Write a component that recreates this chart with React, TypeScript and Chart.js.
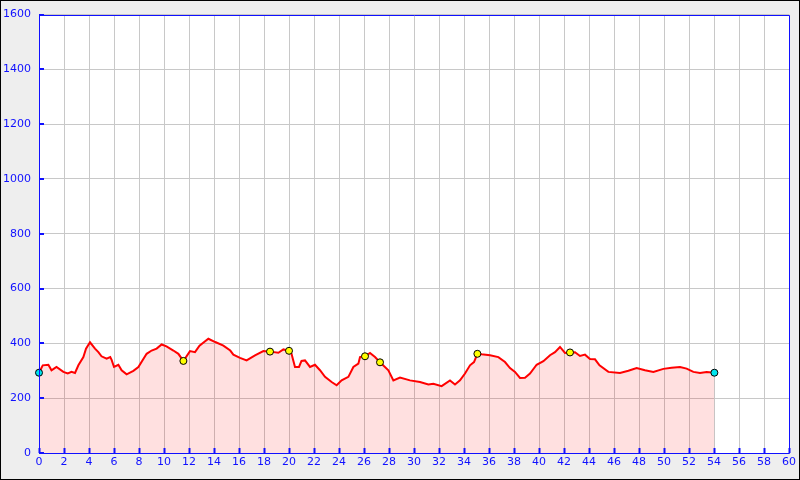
import React, { useEffect, useRef } from "react";
import { Chart, registerables } from "chart.js";

Chart.register(...registerables);

const distanceKm = [
  0, 0.3, 0.75, 1.0, 1.2, 1.4, 1.95, 2.3, 2.6, 2.88, 3.15, 3.55, 3.76, 4.08, 4.48, 4.75, 5.0, 5.41, 5.7, 5.81,
  6.0, 6.35, 6.61, 7.01, 7.55, 7.95, 8.61, 9.01, 9.41, 9.81, 10.2, 10.75, 11.15, 11.55, 12.08, 12.48, 12.84,
  13.55, 14.1, 14.75, 15.3, 15.55, 16.08, 16.61, 17.28, 17.95, 18.48, 19.15, 19.55, 20.0, 20.2, 20.48, 20.8,
  21.0, 21.28, 21.68, 22.08, 22.48, 22.88, 23.41, 23.81, 24.21, 24.75, 25.15, 25.55, 25.68, 26.08, 26.48,
  26.88, 27.28, 27.95, 28.35, 28.88, 29.68, 30.48, 31.15, 31.55, 32.21, 32.88, 33.28, 33.68, 34.08, 34.48,
  34.8, 35.07, 35.41, 36.08, 36.75, 37.28, 37.68, 38.08, 38.48, 38.88, 39.28, 39.81, 40.35, 40.88, 41.28,
  41.68, 42.08, 42.48, 42.88, 43.28, 43.68, 44.08, 44.48, 44.84, 45.55, 46.48, 47.15, 47.81, 48.48, 49.15,
  49.95, 50.61, 51.28, 51.81, 52.35, 52.88, 53.41, 54.03,
];

const elevationM = [
  293, 320, 322, 302, 308, 314, 296, 290, 296, 292, 320, 350, 381, 404, 381, 368, 353, 344, 350, 340,
  314, 322, 302, 287, 300, 314, 362, 374, 381, 396, 389, 374, 362, 336, 372, 368, 392,
  417, 405, 392, 374, 359, 347, 338, 356, 372, 370, 366, 378, 373, 362, 314, 314,
  336, 338, 314, 322, 302, 278, 259, 247, 265, 278, 314, 326, 350, 353, 365,
  350, 331, 302, 265, 275, 265, 259, 250, 253, 244, 265, 250, 265, 290, 320,
  332, 362, 360, 357, 350, 332, 310, 296, 274, 275, 290, 322, 335, 357, 368,
  387, 365, 367, 368, 354, 359, 343, 342, 320, 296, 292, 300, 310, 302, 296,
  307, 311, 314, 308, 296, 292, 296, 293,
];

const endpointKm = [0, 54.03];
const endpointElev = [293, 293];

const waypointKm = [11.55, 18.48, 20.0, 26.08, 27.28, 35.07, 42.48];
const waypointElev = [336, 370, 373, 353, 331, 362, 367];

const xMin = 0;
const xMax = 60;
const xStep = 2;
const yMin = 0;
const yMax = 1600;
const yStep = 200;

const BLUE = "#1010ff";

const framePlugin = {
  id: "frame",
  beforeDraw(chart: any) {
    const { ctx, chartArea, width, height } = chart;
    ctx.save();
    ctx.fillStyle = "#eeeeee";
    ctx.fillRect(0, 0, width, height);
    ctx.fillStyle = "#ffffff";
    ctx.fillRect(chartArea.left, chartArea.top, chartArea.right - chartArea.left, chartArea.bottom - chartArea.top);
    ctx.restore();
  },
  afterDraw(chart: any) {
    const { ctx, chartArea, width, height } = chart;
    const xs = chart.scales.x;
    const ys = chart.scales.y;
    ctx.save();
    ctx.strokeStyle = BLUE;
    ctx.lineWidth = 1;
    ctx.beginPath();
    ctx.rect(
      Math.round(chartArea.left) + 0.5,
      Math.round(chartArea.top) + 0.5,
      Math.round(chartArea.right - chartArea.left),
      Math.round(chartArea.bottom - chartArea.top)
    );
    ctx.stroke();
    ctx.lineWidth = 2;
    ctx.beginPath();
    xs.ticks.forEach((t: any) => {
      const px = Math.round(xs.getPixelForValue(t.value)) + 0.5;
      ctx.moveTo(px, chartArea.bottom);
      ctx.lineTo(px, chartArea.bottom - 5);
    });
    ys.ticks.forEach((t: any) => {
      const py = Math.round(ys.getPixelForValue(t.value));
      ctx.moveTo(chartArea.left, py);
      ctx.lineTo(chartArea.left + 5, py);
    });
    ctx.stroke();
    ctx.strokeStyle = "#000000";
    ctx.lineWidth = 1;
    ctx.strokeRect(0.5, 0.5, width - 1, height - 1);
    ctx.restore();
  },
};

export default function App() {
  const ref = useRef<HTMLCanvasElement | null>(null);

  useEffect(() => {
    if (!ref.current) return;
    const profile = distanceKm.map((d, i) => ({ x: d, y: elevationM[i] }));
    const ends = endpointKm.map((d, i) => ({ x: d, y: endpointElev[i] }));
    const wps = waypointKm.map((d, i) => ({ x: d, y: waypointElev[i] }));
    const tickFont = { family: "DejaVu Sans", size: 11 };
    const plain = (v: any) => String(v);

    const chart = new Chart(ref.current, {
      type: "line",
      data: {
        datasets: [
          {
            type: "scatter",
            data: wps,
            pointRadius: 3.5,
            pointBackgroundColor: "#ffff00",
            pointBorderColor: "#000000",
            pointBorderWidth: 1,
            showLine: false,
            clip: false,
            order: 0,
          } as any,
          {
            type: "scatter",
            data: ends,
            pointRadius: 3.5,
            pointBackgroundColor: "#00e5ee",
            pointBorderColor: "#000000",
            pointBorderWidth: 1,
            showLine: false,
            clip: false,
            order: 0,
          } as any,
          {
            type: "line",
            data: profile,
            borderColor: "#ff0000",
            borderWidth: 2,
            backgroundColor: "rgba(255,0,0,0.12)",
            fill: "origin",
            pointRadius: 0,
            tension: 0,
            order: 1,
          } as any,
        ],
      },
      options: {
        animation: false,
        responsive: false,
        layout: { padding: { top: 13, right: 11, left: 0, bottom: 0 } },
        plugins: { legend: { display: false }, tooltip: { enabled: false } },
        scales: {
          x: {
            type: "linear",
            min: xMin,
            max: xMax,
            ticks: { stepSize: xStep, color: BLUE, font: tickFont, padding: 3, maxRotation: 0, autoSkip: false, callback: plain },
            grid: { color: "#c8c8c8", drawTicks: false, lineWidth: 1 },
            border: { display: false },
            afterFit: (s: any) => {
              s.height = 27;
            },
          },
          y: {
            type: "linear",
            min: yMin,
            max: yMax,
            ticks: { stepSize: yStep, color: BLUE, font: tickFont, padding: 8, callback: plain },
            grid: { color: "#c8c8c8", drawTicks: false, lineWidth: 1 },
            border: { display: false },
            afterFit: (s: any) => {
              s.width = 39;
            },
          },
        },
      },
      plugins: [framePlugin],
    });
    return () => chart.destroy();
  }, []);

  return (
    <div style={{ position: "fixed", left: 0, top: 0, width: 800, height: 480 }}>
      <canvas ref={ref} width={800} height={480} style={{ display: "block" }} />
    </div>
  );
}
